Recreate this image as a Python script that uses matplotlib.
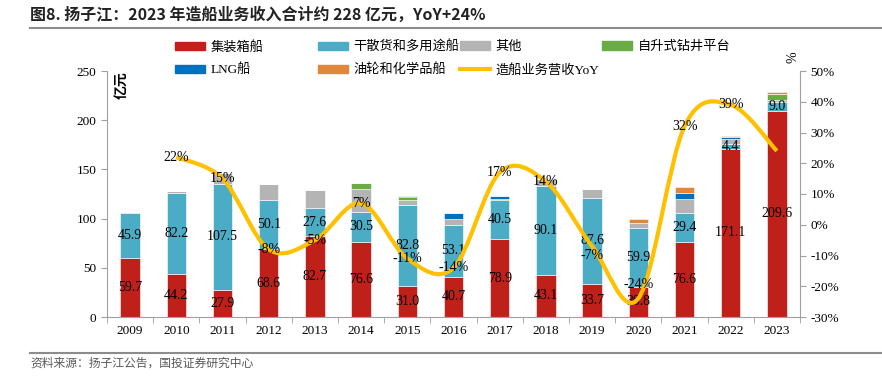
import numpy as np
import matplotlib.pyplot as plt
from matplotlib.path import Path
from matplotlib.patches import PathPatch, Patch
from matplotlib.lines import Line2D

years = ['2009', '2010', '2011', '2012', '2013', '2014', '2015', '2016',
         '2017', '2018', '2019', '2020', '2021', '2022', '2023']
container = [59.7, 44.2, 27.9, 68.6, 82.7, 76.6, 31.0, 40.7, 78.9, 43.1, 33.7, 30.8, 76.6, 171.1, 209.6]
bulk = [45.9, 82.2, 107.5, 50.1, 27.6, 30.5, 82.8, 53.1, 40.5, 90.1, 87.6, 59.9, 29.4, 4.4, 9.0]
other = [1.1, 1.3, 11.0, 16.0, 18.7, 23.0, 5.0, 5.5, 0.0, 7.3, 9.0, 5.0, 14.3, 5.0, 2.0]
rig = [0.0, 0.0, 0.0, 0.0, 0.0, 6.0, 2.7, 0.0, 1.0, 0.0, 0.0, 0.0, 0.0, 0.0, 6.4]
lng = [0.0, 0.0, 0.0, 0.0, 0.0, 0.0, 1.2, 6.0, 2.5, 0.0, 0.0, 0.0, 6.0, 2.0, 0.0]
tanker = [0.0, 0.0, 0.0, 0.0, 0.0, 0.0, 0.0, 0.0, 0.0, 0.0, 0.0, 3.4, 6.0, 1.4, 1.5]
yoy_years = years[1:]
yoy = [22, 15, -8, -5, 7, -11, -14, 17, 14, -7, -24, 32, 39, 24]
yoy_labels = ['22%', '15%', '-8%', '-5%', '7%', '-11%', '-14%', '17%', '14%', '-7%', '-24%', '32%', '39%', '']
# vertical nudges (points) so labels clear the bar values
yoy_nudge = [0, 0, 0, 0, 0, 0, 0, 0, 0, -7, 10, 0, 0, 0]

names = ['集装箱船', '干散货和多用途船', '其他', '自升式钻井平台', 'LNG船', '油轮和化学品船']
colors = ['#C0201A', '#4BACC6', '#B4B4B4', '#6AAB44', '#0070C0', '#E0873A']
line_name = '造船业务营收YoY'
line_color = '#FFC000'

serif = ['Liberation Serif', 'Noto Sans CJK SC']
cjk = ['Noto Sans CJK SC', 'DejaVu Sans']
plt.rcParams['font.family'] = serif

fig = plt.figure(figsize=(8.82, 3.76), dpi=100)
ax = fig.add_axes([107 / 882, 1 - 317 / 376, 693 / 882, 246 / 376])
ax2 = ax.twinx()

x = np.arange(len(years))
series = [container, bulk, other, rig, lng, tanker]
bottom = np.zeros(len(years))
for vals, c in zip(series, colors):
    v = np.array(vals)
    ax.bar(x, v, 0.42, bottom=bottom, color=c, edgecolor='white', linewidth=0.4, zorder=2)
    bottom += v

# value labels for the two main series
for i in range(len(years)):
    ax.text(x[i], container[i] / 2, f'{container[i]:.1f}', ha='center', va='center',
            fontsize=10, color='black', zorder=5)
    ax.text(x[i], container[i] + bulk[i] / 2, f'{bulk[i]:.1f}', ha='center', va='center',
            fontsize=10, color='black', zorder=5)

ax.set_xlim(-0.5, len(years) - 0.5)
ax.set_ylim(0, 250)
ax.set_yticks(np.arange(0, 251, 50))
ax.set_xticks(x)
ax.set_xticklabels(years)
ax.set_xticks(np.arange(-0.5, len(years), 1), minor=True)
ax.tick_params(axis='x', which='major', length=0, labelsize=9.5, pad=6)
ax.tick_params(axis='x', which='minor', length=4, color='#A0A0A0', direction='out')
ax.tick_params(axis='y', length=4, color='#A0A0A0', labelsize=9.5, direction='out')

ax2.set_ylim(-30, 50)
ax2.set_yticks(np.arange(-30, 51, 10))
ax2.set_yticklabels([f'{t}%' for t in range(-30, 51, 10)])
ax2.tick_params(axis='y', length=4, color='#A0A0A0', labelsize=9.5, direction='out')

for a in (ax, ax2):
    a.spines['top'].set_visible(False)
    for s in ('left', 'right', 'bottom'):
        a.spines[s].set_color('#A0A0A0')
ax.spines['right'].set_visible(False)
ax2.spines['left'].set_visible(False)
ax2.spines['bottom'].set_visible(False)

# smoothed YoY line (Bezier through the data points, Excel-like)
px = x[1:].astype(float)
py = np.array(yoy, dtype=float)
n = len(px)
verts = [(px[0], py[0])]
codes = [Path.MOVETO]
for i in range(n - 1):
    p0 = np.array([px[max(i - 1, 0)], py[max(i - 1, 0)]])
    p1 = np.array([px[i], py[i]])
    p2 = np.array([px[i + 1], py[i + 1]])
    p3 = np.array([px[min(i + 2, n - 1)], py[min(i + 2, n - 1)]])
    c1 = p1 + (p2 - p0) / 6
    c2 = p2 - (p3 - p1) / 6
    verts += [tuple(c1), tuple(c2), tuple(p2)]
    codes += [Path.CURVE4] * 3
ax2.add_patch(PathPatch(Path(verts, codes), fill=False, edgecolor=line_color,
                        linewidth=3, capstyle='butt', zorder=3))
for xi, yi, lab, dy in zip(px, py, yoy_labels, yoy_nudge):
    if lab:
        ax2.annotate(lab, (xi, yi), xytext=(0, dy), textcoords='offset points',
                     ha='center', va='center', fontsize=10, color='black', zorder=4)

ax.set_zorder(ax2.get_zorder() - 1)
ax2.patch.set_visible(False)
ax.patch.set_visible(False)

fig.text(122 / 882, 1 - 85 / 376, '亿元', rotation=90, ha='center', va='center',
         fontsize=10, fontweight='bold', family=cjk)
fig.text(793 / 882, 1 - 57 / 376, '%', rotation=90, ha='center', va='center', fontsize=10)

# legend, placed entry by entry
handles = [Patch(color=c) for c in colors] + [Line2D([], [], color=line_color, linewidth=3)]
labels = names + [line_name]
pos = [(175, 47), (318, 47), (460, 47), (602, 47), (175, 70), (318, 70), (460, 70)]
for h, l, (lx, ly) in zip(handles, labels, pos):
    fig.legend([h], [l], loc='center left', bbox_to_anchor=(lx / 882, 1 - ly / 376),
               frameon=False, handlelength=2.3, handleheight=0.6, handletextpad=0.4,
               borderpad=0, borderaxespad=0, prop={'family': serif, 'size': 9.5})

# title and source
fig.text(30 / 882, 1 - 15 / 376, '图8. 扬子江：2023 年造船业务收入合计约 228 亿元，YoY+24%',
         ha='left', va='center', fontsize=11.5, fontweight='bold', family=cjk, color='#222222')
fig.add_artist(Line2D([30 / 882, 1], [1 - 28 / 376] * 2, color='#8C8C8C', linewidth=1.5))
fig.add_artist(Line2D([30 / 882, 1], [1 - 353 / 376] * 2, color='#8C8C8C', linewidth=1.5))
fig.text(30 / 882, 1 - 363 / 376, '资料来源：扬子江公告，国投证券研究中心', ha='left', va='center',
         fontsize=8.5, family=cjk, color='#595959')

fig.savefig('out.png', dpi=100)
